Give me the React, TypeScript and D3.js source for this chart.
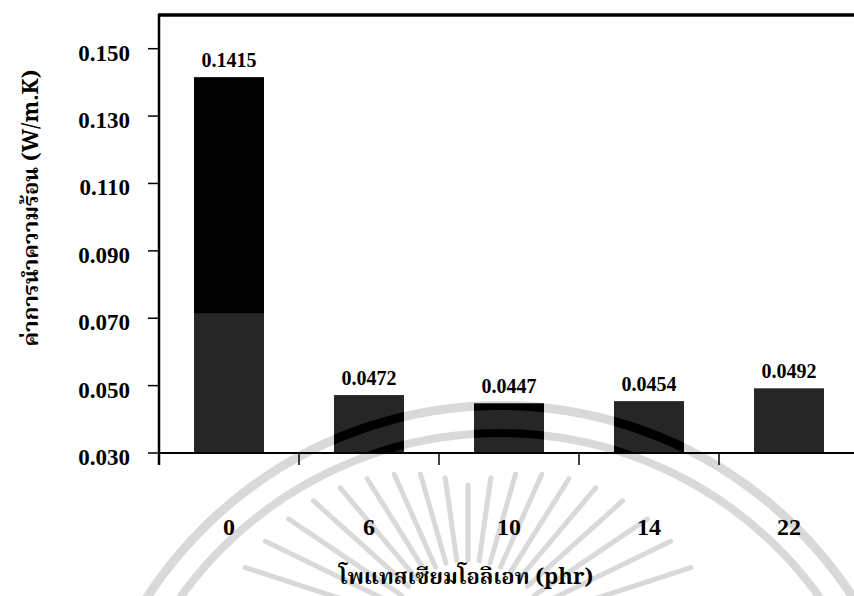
import React from 'react';
import * as d3 from 'd3';

// ---- data ----
const categories = ['0', '6', '10', '14', '22'];
const values = [0.1415, 0.0472, 0.0447, 0.0454, 0.0492];
const valueLabels = ['0.1415', '0.0472', '0.0447', '0.0454', '0.0492'];
const yTicks = [0.03, 0.05, 0.07, 0.09, 0.11, 0.13, 0.15];
const yDomain = [0.03, 0.16];
const darkSplit = 0.0715; // scan artefact: first bar is pure black above this level
const yTitle = 'ค่าการนำความร้อน (W/m.K)';
const xTitle = 'โพแทสเซียมโอลิเอท (phr)';

const W = 854;
const H = 596;
const left = 159;
const top = 15;
const bottom = 453;
const step = 140;

const serif = '"Liberation Serif", "Times New Roman", "DejaVu Serif", serif';
const thai = '"Noto Serif Thai", "Noto Sans Thai", "Tlwg Typo", "Garuda", "Loma", "Norasi", "Liberation Serif", serif';

export default function App() {
  const x = d3
    .scaleBand<string>()
    .domain(categories)
    .range([left, left + step * categories.length])
    .paddingInner(0.5)
    .paddingOuter(0.25);
  const y = d3.scaleLinear().domain(yDomain).range([bottom, top]);

  const boundaries = d3.range(categories.length + 1).map((i) => left + i * x.step());

  // watermark (decorative)
  const arcGen = d3.arc<any>();
  const wmCenter: [number, number] = [500, 826];
  const arcs = [
    arcGen({ innerRadius: 416, outerRadius: 425, startAngle: -1.25, endAngle: 1.25 }) as string,
    arcGen({ innerRadius: 389, outerRadius: 397, startAngle: -1.25, endAngle: 1.25 }) as string,
  ];
  const rayCenter: [number, number] = [468, 640];
  const rayAngles = d3.range(-72, 73, 8);
  const rays = rayAngles.map((deg) => {
    const a = (deg * Math.PI) / 180;
    const r1 = 80;
    const r2 = 155 + Math.abs(deg) * 1.1;
    return {
      x1: rayCenter[0] + r1 * Math.sin(a),
      y1: rayCenter[1] - r1 * Math.cos(a),
      x2: rayCenter[0] + r2 * Math.sin(a),
      y2: rayCenter[1] - r2 * Math.cos(a),
    };
  });

  const watermark = (color: string) => (
    <g>
      <g transform={`translate(${wmCenter[0]},${wmCenter[1]})`}>
        {arcs.map((d, i) => (
          <path key={i} d={d} fill={color} />
        ))}
      </g>
      {rays.map((r, i) => (
        <line key={i} x1={r.x1} y1={r.y1} x2={r.x2} y2={r.y2} stroke={color} strokeWidth={5} strokeLinecap="round" />
      ))}
    </g>
  );

  return (
    <svg
      width={W}
      height={H}
      style={{ position: 'absolute', left: 0, top: 0, background: '#fff' }}
      xmlns="http://www.w3.org/2000/svg"
    >
      <defs>
        <clipPath id="barsClip">
          {categories.map((c, i) => (
            <rect key={c} x={x(c)} y={y(values[i])} width={x.bandwidth()} height={bottom - y(values[i])} />
          ))}
        </clipPath>
      </defs>
      <rect x={0} y={0} width={W} height={H} fill="#fff" />
      {watermark('#d9d9d9')}

      {/* bars */}
      {categories.map((c, i) => (
        <rect key={c} x={x(c)} y={y(values[i])} width={x.bandwidth()} height={bottom - y(values[i])} fill="#262626" />
      ))}
      {categories.map((c, i) =>
        values[i] > darkSplit ? (
          <rect key={'k' + c} x={x(c)} y={y(values[i])} width={x.bandwidth()} height={y(darkSplit) - y(values[i])} fill="#000" />
        ) : null
      )}
      <g clipPath="url(#barsClip)">{watermark('#000')}</g>

      {/* value labels */}
      {categories.map((c, i) => (
        <text
          key={'v' + c}
          x={(x(c) as number) + x.bandwidth() / 2}
          y={y(values[i]) - 10}
          textAnchor="middle"
          fontFamily={serif}
          fontWeight="bold"
          fontSize={20}
          fill="#000"
        >
          {valueLabels[i]}
        </text>
      ))}

      {/* frame / axes */}
      <line x1={left} y1={top} x2={W} y2={top} stroke="#000" strokeWidth={3.5} />
      <line x1={left} y1={top - 1.5} x2={left} y2={bottom + 12} stroke="#000" strokeWidth={2.5} />
      <line x1={left} y1={bottom} x2={W} y2={bottom} stroke="#000" strokeWidth={2} />

      {/* y ticks */}
      {yTicks.map((t) => (
        <g key={t}>
          <line x1={left - 11} y1={y(t)} x2={left} y2={y(t)} stroke="#000" strokeWidth={1.5} />
          <text
            x={130}
            y={y(t) + 12}
            textAnchor="end"
            fontFamily={serif}
            fontWeight="bold"
            fontSize={23}
            fill="#000"
          >
            {d3.format('.3f')(t)}
          </text>
        </g>
      ))}

      {/* x ticks */}
      {boundaries.map((b, i) => (
        <line key={i} x1={b} y1={bottom} x2={b} y2={bottom + 12} stroke="#000" strokeWidth={1.5} />
      ))}
      {categories.map((c) => (
        <text
          key={'x' + c}
          x={(x(c) as number) + x.bandwidth() / 2}
          y={535}
          textAnchor="middle"
          fontFamily={serif}
          fontWeight="bold"
          fontSize={24}
          fill="#000"
        >
          {c}
        </text>
      ))}

      {/* titles */}
      <text
        transform="translate(38,208) rotate(-90)"
        textAnchor="middle"
        fontFamily={thai}
        fontWeight="bold"
        fontSize={22}
        fill="#000"
      >
        {yTitle}
      </text>
      <text x={466} y={584} textAnchor="middle" fontFamily={thai} fontWeight="bold" fontSize={22} fill="#000">
        {xTitle}
      </text>
    </svg>
  );
}
